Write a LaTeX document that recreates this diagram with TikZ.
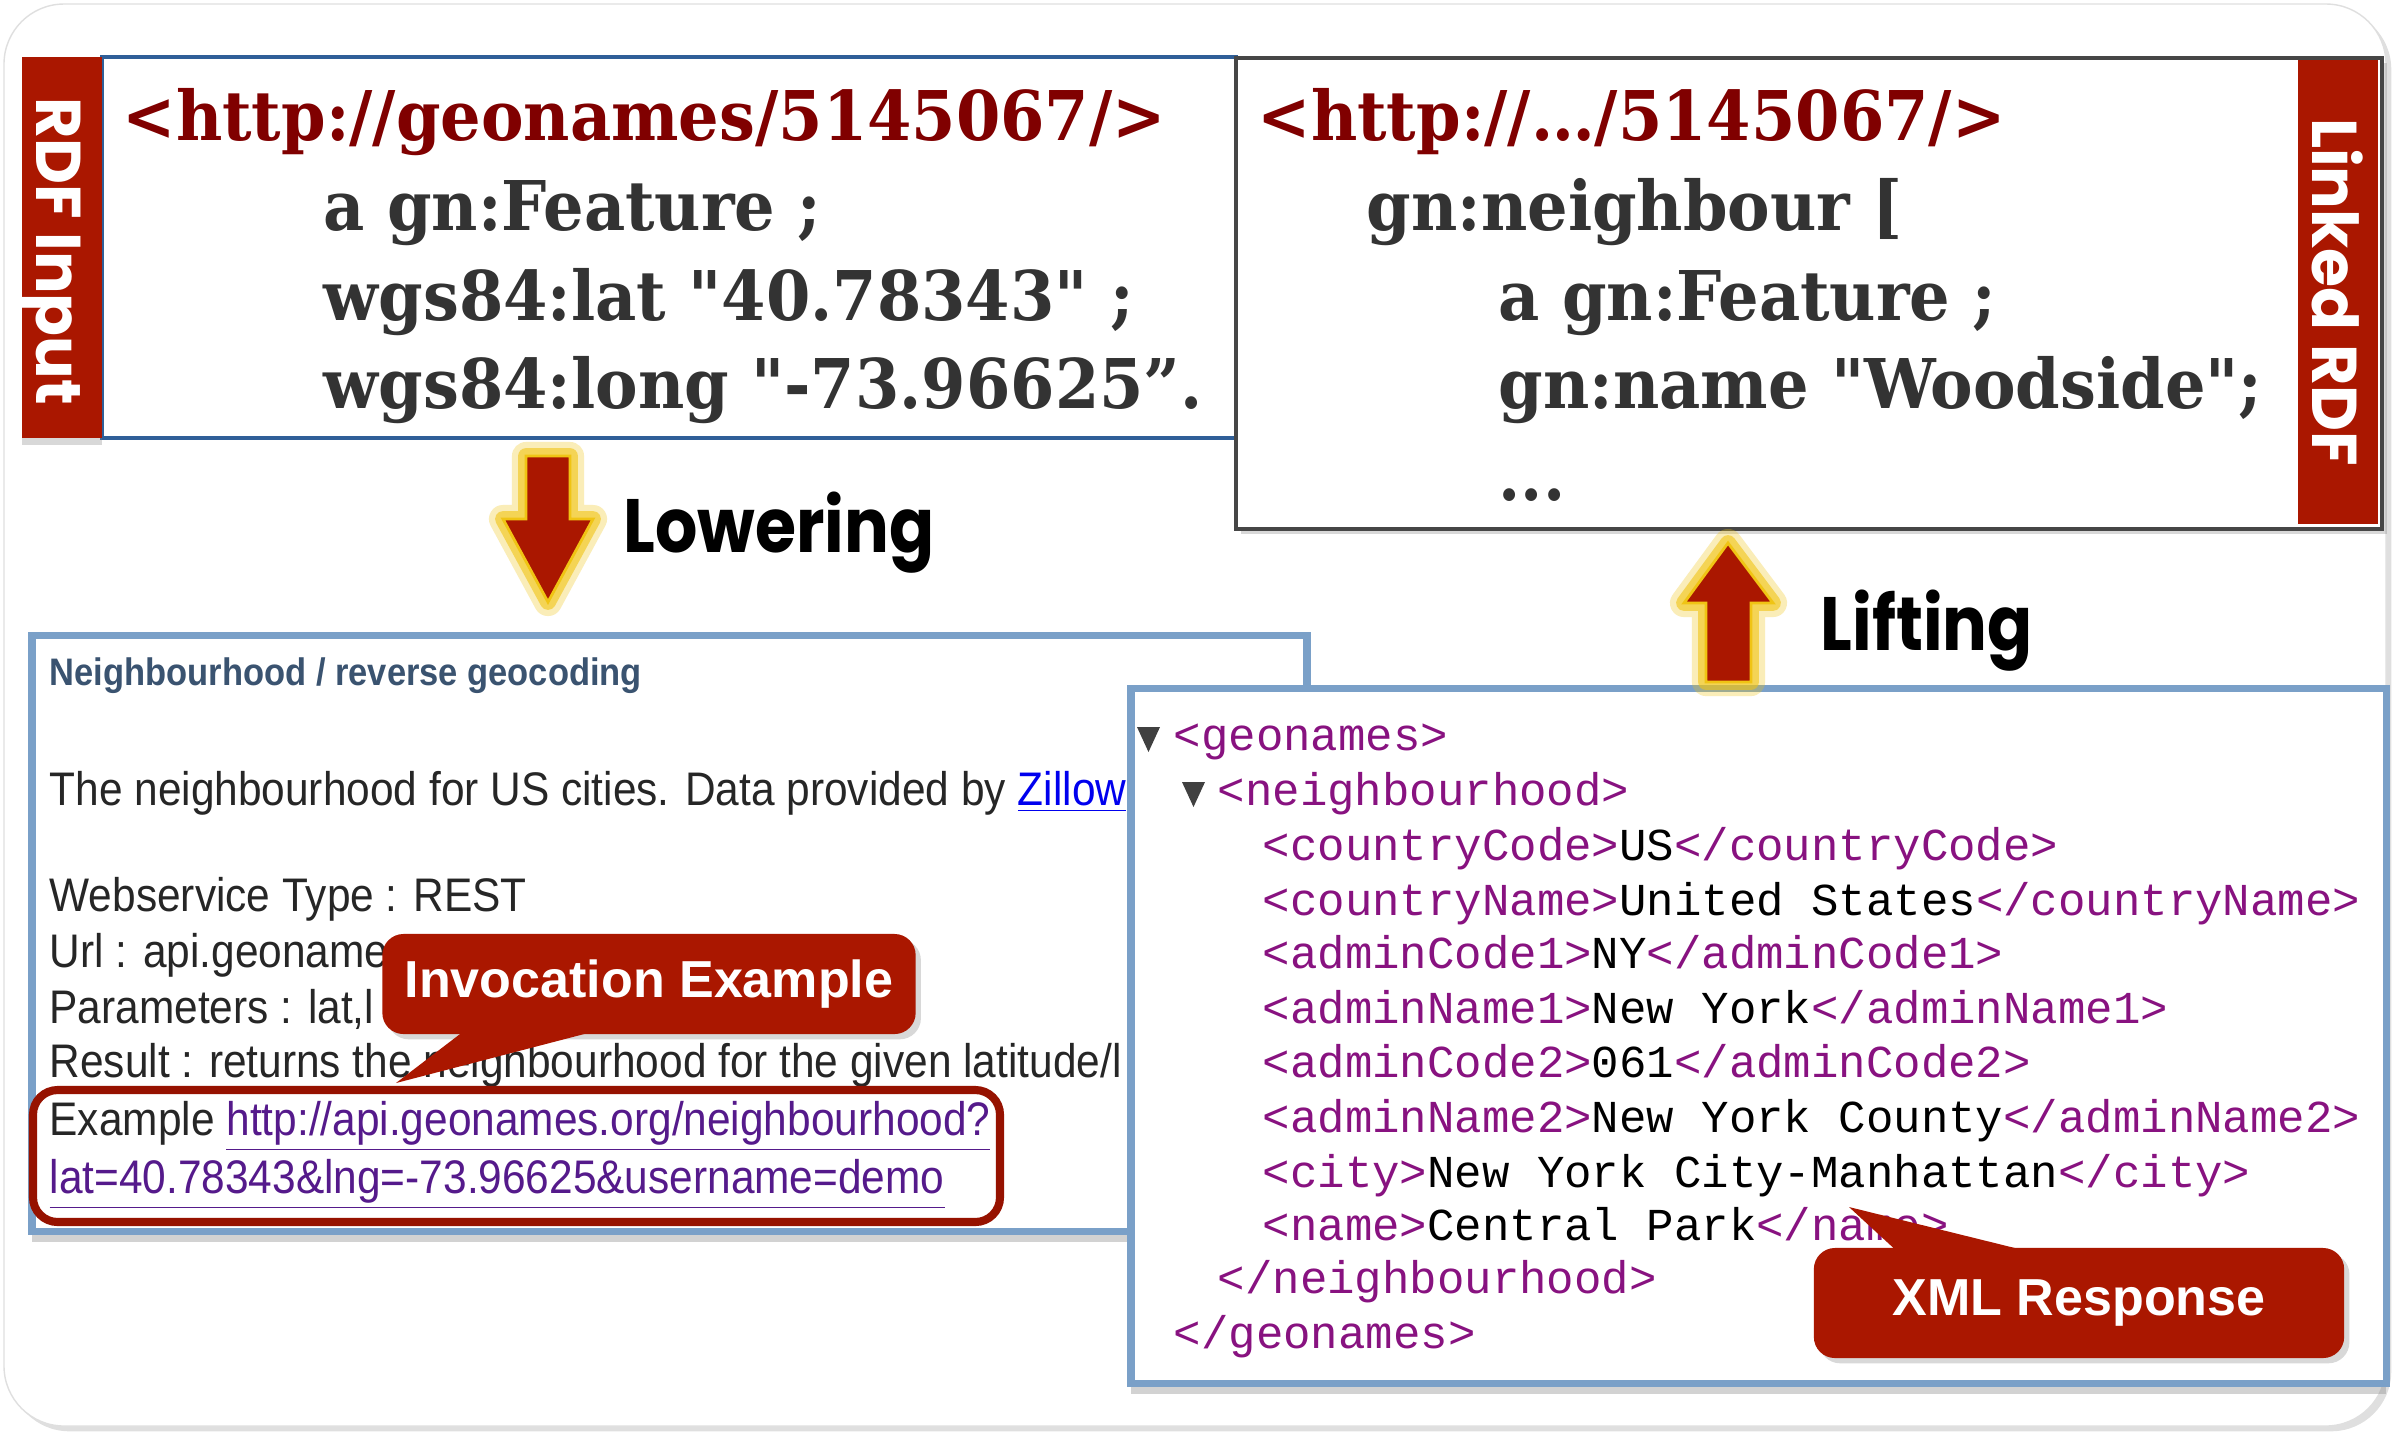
\documentclass[tikz,border=0pt]{standalone}
\usepackage{fontspec}
\usepackage{xcolor}
\usepackage{tikz}
\usetikzlibrary{calc,shadows,positioning}

\newfontfamily\rdffont{DejaVu Serif}[FakeStretch=0.93,Ligatures=TeXOff]
\newfontfamily\headfont{Poppins}
\newfontfamily\stepfont{Poppins}[FakeStretch=0.88]
\newfontfamily\webfont{Liberation Sans}[FakeStretch=0.9]
\newfontfamily\callfont{Liberation Sans}
\newfontfamily\xmlfont{Liberation Mono}

\definecolor{tabred}{RGB}{170,23,0}
\definecolor{urired}{RGB}{128,0,0}
\definecolor{rdfgrey}{RGB}{51,51,51}
\definecolor{inblue}{RGB}{47,95,152}
\definecolor{outgrey}{RGB}{70,70,70}
\definecolor{shotblue}{RGB}{122,160,200}
\definecolor{glow}{RGB}{240,196,20}
\definecolor{headblue}{RGB}{58,83,112}
\definecolor{linkblue}{RGB}{0,0,238}
\definecolor{linkpurple}{RGB}{85,26,139}
\definecolor{tagpurple}{RGB}{136,18,128}
\definecolor{markred}{RGB}{150,18,0}

\newcommand{\xtag}[1]{\textcolor{tagpurple}{#1}}

\begin{document}
\begin{tikzpicture}[x=0.01cm, y=-0.01cm,
  txt/.style={inner sep=0pt, anchor=base west},
  rdfuri/.style={txt, text=urired, font=\rdffont\bfseries\fontsize{19.5}{22}\selectfont},
  rdfline/.style={txt, text=rdfgrey, font=\rdffont\bfseries\fontsize{19.5}{22}\selectfont},
  tabtxt/.style={inner sep=0pt, anchor=base, rotate=-90, text=white, font=\headfont\bfseries\fontsize{18}{20}\selectfont},
  steptxt/.style={txt, font=\stepfont\bfseries\fontsize{21.5}{24}\selectfont},
  webtxt/.style={txt, text=black!85, font=\webfont\fontsize{13.4}{15}\selectfont},
  xmltxt/.style={txt, font=\xmlfont\fontsize{13}{15}\selectfont},
  shot/.style={draw=shotblue, line width=2pt, fill=white, drop shadow={shadow xshift=0pt, shadow yshift=-3pt, opacity=0.35}},
  callout/.style={fill=tabred, rounded corners=6pt, text=white, inner sep=0pt, font=\callfont\bfseries\fontsize{14.8}{16}\selectfont, drop shadow={shadow xshift=1.5pt, shadow yshift=-1.5pt, opacity=0.3}},
  blockarrow/.style={fill=tabred, draw=glow, line width=0.8pt,
    preaction={draw=glow, line width=8pt, opacity=0.3, line join=round},
    preaction={draw=glow, line width=4.5pt, opacity=0.6, line join=round}},
]

\useasboundingbox (0,0) rectangle (2393,1432);

% cadre
\draw[gray!25, fill=white, rounded corners=0.6cm, drop shadow={shadow xshift=1.5pt, shadow yshift=-1.5pt, opacity=0.25}] (4,4) rectangle (2386,1426);

% rdf input
\draw[inblue, line width=0.9pt, fill=white] (102,57) rectangle (1236,438);
\fill[tabred, drop shadow={shadow xshift=0pt, shadow yshift=-2pt, opacity=0.3}] (22,57) rectangle (102,438);
\node[tabtxt] (intab) at (36,251) {RDF Input};
\node[rdfuri] (inuri) at (122,140) {<http://geonames/5145067/>};
\node[rdfline] (intype) at (323,230) {a gn:Feature ;};
\node[rdfline] (inlat) at (323,320) {wgs84:lat "40.78343" ;};
\node[rdfline] (inlong) at (323,408) {wgs84:long "-73.96625”.};

% linked rdf
\draw[outgrey, line width=1.2pt, fill=white, drop shadow={shadow xshift=1.5pt, shadow yshift=-1.5pt, opacity=0.3}] (1236,58) rectangle (2382,529);
\fill[tabred] (2298,60) rectangle (2378,524);
\node[tabtxt] (outtab) at (2312,292) {Linked RDF};
\node[rdfuri] (outuri) at (1257,140) {<http://…/5145067/>};
\node[rdfline] (outnb) at (1366,230) {gn:neighbour [};
\node[rdfline] (outtype) at (1498,320) {a gn:Feature ;};
\node[rdfline] (outname) at (1498,408) {gn:name "Woodside";};
\node[rdfline] (outmore) at (1498,500) {...};

% page web
\draw[shot] (32,635) rectangle (1307,1231);
\node[txt, text=headblue, font=\webfont\bfseries\fontsize{10.9}{12}\selectfont] (webhead) at (49,685) {Neighbourhood / reverse geocoding};
\node[webtxt] (webdesc) at (49,805) {The neighbourhood for US cities. Data provided by \textcolor{linkblue}{\underline{Zillow}}};
\node[webtxt] (webtype) at (49,911) {Webservice Type : REST};
\node[webtxt] (weburl) at (49,967) {Url : api.geoname};
\node[webtxt] (webpar) at (49,1023) {Parameters : lat,l};
\node[webtxt] (webres) at (49,1077) {Result : returns the neighbourhood for the given latitude/l};
\node[webtxt] (webex) at (49,1135) {Example \textcolor{linkpurple}{\underline{http://api.geonames.org/neighbourhood?}}};
\node[webtxt] (webquery) at (49,1193) {\textcolor{linkpurple}{\underline{lat=40.78343\&lng=-73.96625\&username=demo}}};
\draw[markred, line width=2.3pt, rounded corners=7pt] (33,1090) rectangle (1000,1222);

% bulle invocation
\node[callout, minimum width=5.33cm, minimum height=1cm] (invoke) at (649,984) {Invocation Example};
\coordinate (invoketip) at (396,1083);
\fill[tabred] ($(invoke.south west)+(84,-5)$) -- (invoketip) -- ($(invoke.south west)+(219,-5)$) -- cycle;

% reponse xml
\draw[shot] (1131,688) rectangle (2386,1383);
\fill[gray!50!black] (1137,727) -- (1160,727) -- (1148.5,752) -- cycle;
\fill[gray!50!black] (1182,782) -- (1205,782) -- (1193.5,807) -- cycle;
\node[xmltxt] (xgeo) at (1173,750) {\xtag{<geonames>}};
\node[xmltxt] (xnb) at (1217,805) {\xtag{<neighbourhood>}};
\node[xmltxt] (xcode) at (1262,860) {\xtag{<countryCode>}US\xtag{</countryCode>}};
\node[xmltxt] (xcountry) at (1262,915) {\xtag{<countryName>}United States\xtag{</countryName>}};
\node[xmltxt] (xcodeA) at (1262,968) {\xtag{<adminCode1>}NY\xtag{</adminCode1>}};
\node[xmltxt] (xnameA) at (1262,1023) {\xtag{<adminName1>}New York\xtag{</adminName1>}};
\node[xmltxt] (xcodeB) at (1262,1077) {\xtag{<adminCode2>}061\xtag{</adminCode2>}};
\node[xmltxt] (xnameB) at (1262,1132) {\xtag{<adminName2>}New York County\xtag{</adminName2>}};
\node[xmltxt] (xcity) at (1262,1187) {\xtag{<city>}New York City-Manhattan\xtag{</city>}};
\node[xmltxt] (xname) at (1262,1240) {\xtag{<name>}Central Park\xtag{</name>}};
\node[xmltxt] (xnbend) at (1217,1293) {\xtag{</neighbourhood>}};
\node[xmltxt] (xgeoend) at (1173,1348) {\xtag{</geonames>}};

% bulle reponse
\node[callout, minimum width=5.3cm, minimum height=1.1cm] (response) at (2079,1303) {XML Response};
\coordinate (responsetip) at (1849,1207);
\fill[tabred] ($(response.north west)+(85,5)$) -- (responsetip) -- ($(response.north west)+(219,5)$) -- cycle;

% fleches
\draw[blockarrow] (526,456) -- (570,456) -- (570,519) -- (593,519) -- (548,602) -- (503,519) -- (526,519) -- cycle;
\node[steptxt] (lower) at (623,552) {Lowering};
\draw[blockarrow] (1728,543) -- (1773,603) -- (1751,603) -- (1751,682) -- (1706,682) -- (1706,603) -- (1684,603) -- cycle;
\node[steptxt] (lift) at (1820,650) {Lifting};

\end{tikzpicture}
\end{document}
